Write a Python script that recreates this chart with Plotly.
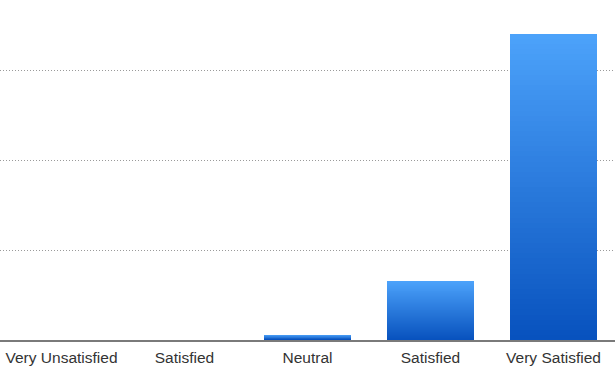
import plotly.graph_objects as go

categories = ["Very Unsatisfied", "Satisfied", "Neutral", "Satisfied", "Very Satisfied"]
values = [0, 0, 0.6, 6.6, 34.0]
y_ticks = [0, 10, 20, 30]

top_rgb = (76, 162, 250)
bottom_rgb = (8, 82, 190)
N = 60

positions = list(range(len(categories)))
fig = go.Figure()
for k in range(N):
    t = k / (N - 1)
    r, g, b = (round(top_rgb[i] + (bottom_rgb[i] - top_rgb[i]) * t) for i in range(3))
    frac = (N - k) / N
    fig.add_trace(go.Bar(
        x=positions,
        y=[v * frac for v in values],
        width=0.71,
        marker=dict(color=f"rgb({r},{g},{b})", line=dict(width=0)),
        hoverinfo="skip",
        showlegend=False,
    ))

fig.update_layout(
    width=615, height=371,
    margin=dict(l=0, r=0, t=0, b=31),
    paper_bgcolor="white", plot_bgcolor="white",
    barmode="overlay", bargap=0,
    font=dict(family="Liberation Sans, Arial, sans-serif", size=15.5, color="#333333"),
    xaxis=dict(
        range=[-0.5, 4.5], tickvals=positions, ticktext=categories,
        showgrid=False, zeroline=False, showline=True, linecolor="#7a7a7a", linewidth=1.5,
        ticks="outside", ticklen=3, tickcolor="rgba(0,0,0,0)", fixedrange=True,
        automargin=False,
    ),
    yaxis=dict(
        range=[0, 37.78], tickvals=y_ticks, showticklabels=False,
        showgrid=True, gridcolor="#9a9a9a", griddash="1px,2px", gridwidth=1,
        zeroline=False, showline=False, fixedrange=True, automargin=False,
    ),
)
fig.write_html(
    "out.html",
    config={"displayModeBar": False},
    post_script="document.body.style.margin='0';document.body.style.overflow='hidden';",
)
